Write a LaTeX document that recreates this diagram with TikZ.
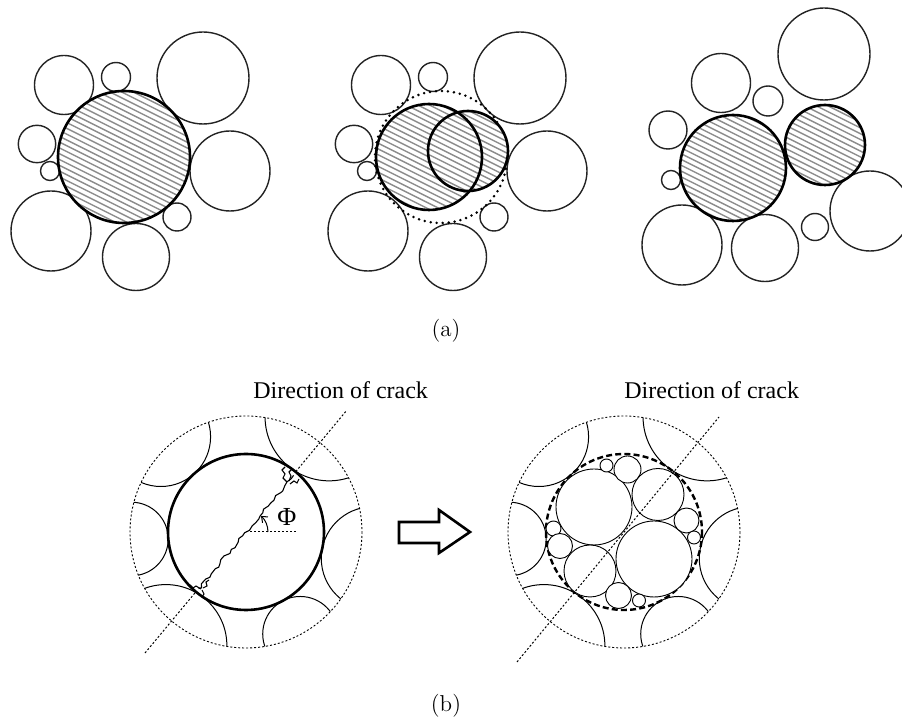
\documentclass[tikz,border=0pt]{standalone}
\usepackage{fontspec}
\usepackage{xcolor}
\usepackage{tikz}
\usetikzlibrary{
  arrows.meta,
  calc,
  decorations.pathmorphing
}
\newfontfamily\timesfont{Liberation Serif}
\definecolor{GrainInk}{RGB}{35,35,35}
\definecolor{HatchGray}{RGB}{140,140,140}
\newcommand{\hatchdisc}[3]{%
  \begin{scope}
    \clip (#1,#2) circle (#3);
    \fill[white] (#1,#2) circle (#3);
    \foreach \k in {-16,...,16}
      \draw[hatchline] (#1-130,{#2+(\k)*5.8-65}) -- (#1+130,{#2+(\k)*5.8+65});
  \end{scope}}
\tikzset{
  %%── grains, panel (a) ─────────────────────────────
  grain/.style     = {draw = GrainInk, line width = 0.7pt},
  bigGrain/.style  = {draw = black, line width = 1.3pt},
  hatchline/.style = {draw = HatchGray, line width = 0.7pt},
  oldPos/.style    = {draw = black, line width = 1.4pt,
                      dash pattern = on 0pt off 3pt, line cap = round},
  %%── cell, panel (b) ───────────────────────────────
  cellBound/.style = {draw = black, line width = 0.45pt, dash pattern = on 1pt off 1pt},
  crackDir/.style  = {draw = black, line width = 0.5pt, dash pattern = on 1pt off 1pt},
  nbArc/.style     = {draw = black, line width = 0.5pt},
  oldGrain/.style  = {draw = black, line width = 1.2pt, dash pattern = on 3pt off 1.6pt},
  frag/.style      = {draw = black, line width = 0.45pt},
  crackLine/.style = {draw = black, line width = 0.55pt},
  %%── text ──────────────────────────────────────────
  capt/.style       = {font = \fontsize{11.5}{14}\selectfont, inner sep = 0pt},
  crackLabel/.style = {font = \timesfont\fontsize{12}{14}\selectfont,
                       inner sep = 0pt, anchor = base west},
  phiLabel/.style   = {font = \timesfont\fontsize{13}{15}\selectfont, inner sep = 0pt},
}

\begin{document}
\begin{tikzpicture}[x = 0.5pt, y = -0.5pt]
  \useasboundingbox (0,0) rectangle (902,727);

  %% ── (a) left: grain before breakage ──────────────
  \foreach \cx/\cy/\r in {64/85/29.5, 116/77/14.5, 203/78/46, 37/144/18.7, 50/171/9.5,
                          230/171/40, 51/231/40, 177/217/14, 136/257/33.5}
    \draw[grain] (\cx,\cy) circle (\r);
  \hatchdisc{124}{157}{66}
  \draw[bigGrain] (124,157) circle (66);

  %% ── (a) middle: two parts inside old position ────
  \foreach \cx/\cy/\r in {64/85/29.5, 116/77/14.5, 203/78/46, 37/144/18.7, 50/171/9.5,
                          230/171/40, 51/231/40, 177/217/14, 136/257/33.5}
    \draw[grain] (\cx+317,\cy) circle (\r);
  \draw[oldPos] (441,157) circle (66);
  \hatchdisc{429}{157}{53}
  \hatchdisc{468}{151}{40}
  \draw[bigGrain] (429,157) circle (53);
  \draw[bigGrain] (468,151) circle (40);

  %% ── (a) right: parts after rearrangement ─────────
  \foreach \cx/\cy/\r in {824/54/46, 721/83/29.5, 768/101/15, 668/130/19, 671/180/9.5,
                          682/245/40, 765/248/33.5, 815/227/13.5, 870/211/40}
    \draw[grain] (\cx,\cy) circle (\r);
  \hatchdisc{733}{168}{53}
  \hatchdisc{825}{145}{40}
  \draw[bigGrain] (733,168) circle (53);
  \draw[bigGrain] (825,145) circle (40);

  \node[capt] (capA) at (446,331) {(a)};

  %% ── (b) left: cracked grain ──────────────────────
  \coordinate (cL) at (246,532);
  \draw[cellBound] (cL) circle (116);
  \begin{scope}
    \clip (cL) circle (116);
    \foreach \a/\r in {-131.8/49.7, -54.2/64, -183.5/36.8, 11.75/51.7, -234.8/61, -298/37.5}
      \draw[nbArc] ($(cL)+(\a:{78+\r})$) circle (\r);
  \end{scope}
  \coordinate (dirL1) at (145,653);
  \coordinate (dirL2) at (347,410);
  \draw[crackDir] (dirL1) -- (dirL2);
  \draw[bigGrain, fill = white] (cL) circle (78);
  \pgfmathsetseed{7}
  \draw[crackLine, decorate, decoration = {random steps, segment length = 2.2pt, amplitude = 0.9pt}]
    ($(cL)+(-50:74)$) -- ($(cL)+(130:74)$);
  \draw[crackLine] (287,482) -- (283,478) -- (285,474) -- (282,470) -- (285,467);
  \draw[crackLine] (289,481) -- (291,476) -- (289,472) -- (292,469);
  \draw[crackLine] (290,484) -- (294,481) -- (297,483) -- (299,479);
  \draw[crackLine] (201,589) -- (196,586) -- (193,588) -- (190,585);
  \draw[crackLine] (202,590) -- (204,594) -- (202,597) -- (205,599);
  \draw[crackLine] (203,588) -- (207,586) -- (206,582) -- (209,580);
  \draw[crackDir] (cL) -- ++(51,0);
  \draw[line width = 0.5pt, -{Straight Barb[length=2.5pt, width=4pt]}]
    ($(cL)+(22,0)$) arc (0:-47:22);
  \node[phiLabel] (phi) at (287,517) {Φ};
  \node[crackLabel] (dirLabelL) at (253,399) {Direction of crack};

  %% ── arrow ────────────────────────────────────────
  \draw[line width = 1.3pt, line join = miter]
    (399,522) -- (439,522) -- (439,510) -- (470,532) -- (439,553) -- (439,543) -- (399,543) -- cycle;

  %% ── (b) right: fragments ─────────────────────────
  \coordinate (cR) at (624,532);
  \draw[cellBound] (cR) circle (116);
  \begin{scope}
    \clip (cR) circle (116);
    \foreach \a/\r in {-131.8/49.7, -54.2/64, -183.5/36.8, 11.75/51.7, -234.8/61, -298/37.5}
      \draw[nbArc] ($(cR)+(\a:{78+\r})$) circle (\r);
  \end{scope}
  \draw[oldGrain] (cR) circle (78);
  \foreach \cx/\cy/\r in {594/507/38, 654/559/38, 658/494.5/26, 590/571/26,
                          627.5/469.5/13.5, 606.5/465.5/6.5, 686.5/520.5/12.5, 694/537.5/6.5,
                          553.5/528.5/7.5, 560/546/12.5, 618.5/595.5/13, 639/600.5/6.5}
    \draw[frag, fill = white] (\cx,\cy) circle (\r);
  \coordinate (dirR1) at (517,662);
  \coordinate (dirR2) at (719,417);
  \draw[crackDir] (dirR1) -- (dirR2);
  \node[crackLabel] (dirLabelR) at (624,399) {Direction of crack};

  \node[capt] (capB) at (446,706) {(b)};

\end{tikzpicture}
\end{document}
